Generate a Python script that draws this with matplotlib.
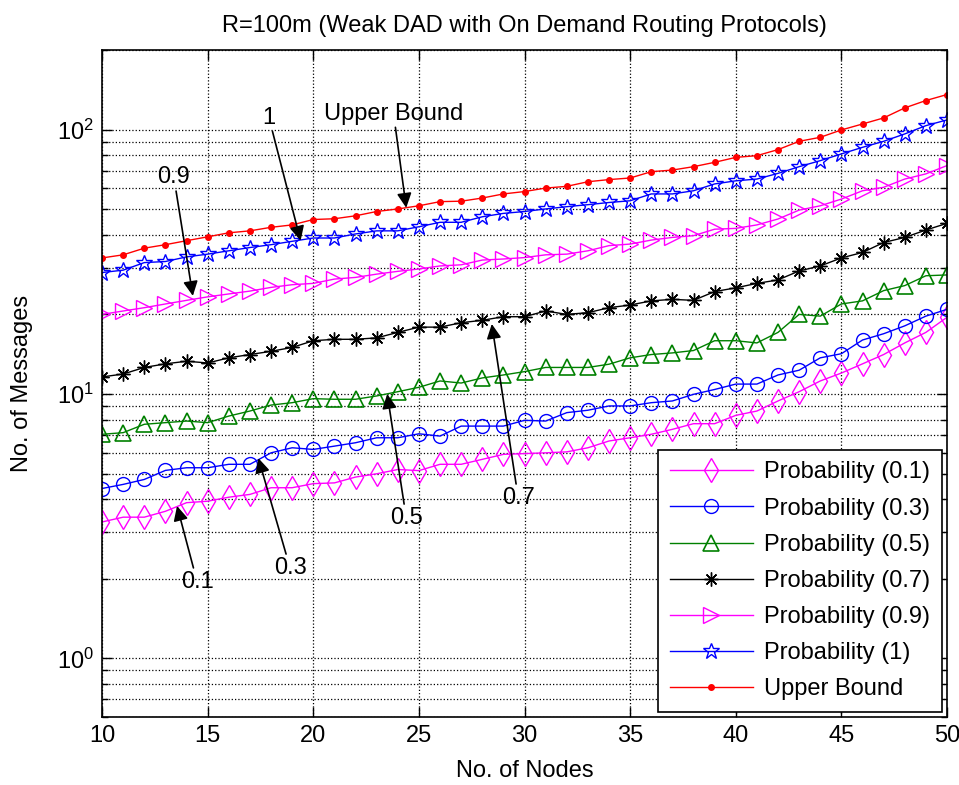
import numpy as np
import matplotlib
matplotlib.use("Agg")
import matplotlib.pyplot as plt

plt.rcParams['font.family'] = ['Liberation Sans', 'DejaVu Sans']
plt.rcParams['mathtext.fontset'] = 'custom'
plt.rcParams['mathtext.rm'] = 'Liberation Sans'

nodes = np.arange(10, 51)

# messages per run, one list per forwarding probability
p01 = [3.28, 3.42, 3.42, 3.60, 3.88, 3.93, 4.07, 4.17, 4.42, 4.42,
       4.58, 4.61, 4.85, 4.99, 5.18, 5.13, 5.42, 5.42, 5.66, 5.91,
       5.95, 5.99, 6.04, 6.26, 6.64, 6.83, 7.04, 7.35, 7.72, 7.72,
       8.30, 8.62, 9.41, 10.2, 11.2, 12.0, 13.0, 14.1, 15.6, 17.1, 19.5]
p03 = [4.39, 4.55, 4.75, 5.14, 5.26, 5.26, 5.42, 5.42, 5.99, 6.26,
       6.17, 6.35, 6.54, 6.83, 6.83, 7.07, 6.93, 7.56, 7.56, 7.56,
       7.95, 7.90, 8.50, 8.68, 9.01, 9.01, 9.27, 9.41, 9.97, 10.4,
       10.9, 10.9, 11.8, 12.3, 13.7, 14.2, 16.0, 16.9, 18.1, 19.7, 20.9]
p05 = [7.04, 7.14, 7.68, 7.79, 7.90, 7.79, 8.25, 8.62, 9.08, 9.27,
       9.60, 9.55, 9.55, 9.83, 10.2, 10.6, 11.2, 11.0, 11.5, 11.8,
       12.15, 12.6, 12.6, 12.6, 12.96, 13.7, 14.1, 14.3, 14.6, 15.9,
       15.9, 15.6, 17.1, 20.0, 19.7, 21.9, 22.5, 24.6, 25.7, 28.0, 28.2]
p07 = [11.6, 11.9, 12.6, 13.0, 13.3, 13.1, 13.7, 14.1, 14.5, 15.0,
       15.9, 16.1, 16.1, 16.3, 17.1, 17.9, 17.9, 18.6, 19.0, 19.6,
       19.6, 20.6, 20.0, 20.3, 21.2, 21.7, 22.5, 22.8, 22.6, 24.4,
       25.2, 26.2, 27.0, 29.2, 30.5, 32.7, 34.3, 37.4, 39.1, 41.7, 44.2]
p09 = [20.0, 20.6, 21.2, 21.9, 22.6, 23.3, 23.9, 24.5, 25.3, 25.9,
       26.2, 27.2, 27.6, 28.4, 29.1, 29.7, 30.5, 30.8, 32.1, 32.4,
       32.8, 33.6, 33.8, 34.8, 36.4, 36.9, 38.2, 39.1, 39.7, 42.0,
       42.3, 43.6, 45.9, 49.6, 51.5, 54.6, 58.7, 60.5, 65.0, 68.0, 73.1]
p10 = [28.8, 29.4, 31.4, 31.7, 33.0, 33.8, 34.8, 35.8, 36.7, 37.8,
       38.9, 38.9, 40.3, 41.4, 41.4, 42.9, 44.6, 44.6, 46.8, 48.2,
       49.0, 50.1, 51.1, 52.0, 53.0, 53.8, 57.1, 57.1, 58.7, 62.3,
       64.0, 65.0, 68.3, 72.4, 76.3, 80.9, 85.7, 90.3, 96.3, 103.5, 108.8]
upper = [32.7, 33.6, 35.6, 36.7, 38.0, 39.3, 40.7, 41.4, 42.7, 43.6,
         45.7, 46.0, 47.2, 49.0, 50.1, 51.5, 53.4, 53.6, 55.1, 57.1,
         58.3, 60.1, 61.0, 63.5, 64.7, 65.6, 69.3, 70.3, 72.4, 75.2,
         78.5, 79.7, 84.0, 90.3, 93.5, 99.7, 105.0, 110.7, 120.8, 128.8, 135.7]

labels = ['Probability (0.1)', 'Probability (0.3)', 'Probability (0.5)',
          'Probability (0.7)', 'Probability (0.9)', 'Probability (1)',
          'Upper Bound']

fs = 17
magenta = '#ff00ff'
green = '#008000'

fig = plt.figure(figsize=(9.59, 7.85), dpi=100)
ax = fig.add_axes([0.1064, 0.0866, 0.8811, 0.8497])

ms = 10
ax.semilogy(nodes, p01, '-', color=magenta, marker='d', ms=ms + 2, mfc='none', mew=1, lw=1, label=labels[0])
ax.semilogy(nodes, p03, '-', color='b', marker='o', ms=ms, mfc='none', mew=1, lw=1, label=labels[1])
ax.semilogy(nodes, p05, '-', color=green, marker='^', ms=ms + 1, mfc='none', mew=1.2, lw=1, label=labels[2])
ax.semilogy(nodes, p07, '-', color='k', marker=(8, 2, 0), ms=ms, mew=1, lw=1, label=labels[3])
ax.semilogy(nodes, p09, '-', color=magenta, marker='>', ms=ms + 1, mfc='none', mew=1, lw=1, label=labels[4])
ax.semilogy(nodes, p10, '-', color='b', marker='*', ms=ms + 2, mfc='none', mew=1, lw=1, label=labels[5])
ax.semilogy(nodes, upper, '-', color='r', marker='.', ms=8, lw=1, label=labels[6])

ax.set_xlim(10, 50)
ax.set_ylim(0.6, 200)
ax.set_xticks(np.arange(10, 51, 5))
ax.grid(True, which='major', color='k', linestyle=':', linewidth=0.9)
ax.grid(True, which='minor', axis='y', color='k', linestyle=':', linewidth=0.9)
ax.tick_params(which='both', direction='in', top=True, right=True, labelsize=fs)
ax.tick_params(which='major', length=7, width=1, pad=6)
ax.tick_params(which='minor', length=4, width=1)
for s in ax.spines.values():
    s.set_linewidth(1.2)

ax.set_title('R=100m (Weak DAD with On Demand Routing Protocols)', fontsize=fs, pad=13)
ax.set_xlabel('No. of Nodes', fontsize=fs, labelpad=9)
ax.set_ylabel('No. of Messages', fontsize=fs, labelpad=17)

leg = ax.legend(loc='lower right', fontsize=fs, handlelength=3.5, handletextpad=0.5,
                fancybox=False, framealpha=1, edgecolor='k', borderaxespad=0.2,
                labelspacing=0.6, borderpad=0.5)
leg.get_frame().set_linewidth(1.2)

# arrows pointing out each curve
arrow = dict(arrowstyle='-|>', color='k', lw=1.2, mutation_scale=22, shrinkA=0, shrinkB=0)
notes = [('Upper Bound', (24.4, 50.6), (23.8, 115)),
         ('1', (19.4, 38.0), (17.9, 111)),
         ('0.9', (14.3, 23.5), (13.4, 66)),
         ('0.1', (13.55, 3.77), (14.5, 1.95)),
         ('0.3', (17.4, 5.72), (18.9, 2.2)),
         ('0.5', (23.5, 10.0), (24.4, 3.4)),
         ('0.7', (28.45, 18.4), (29.7, 4.05))]
for txt, tip, pos in notes:
    ax.annotate(txt, xy=tip, xytext=pos, fontsize=fs, ha='center', va='center',
                arrowprops=arrow)

fig.savefig('out.png', dpi=100)
